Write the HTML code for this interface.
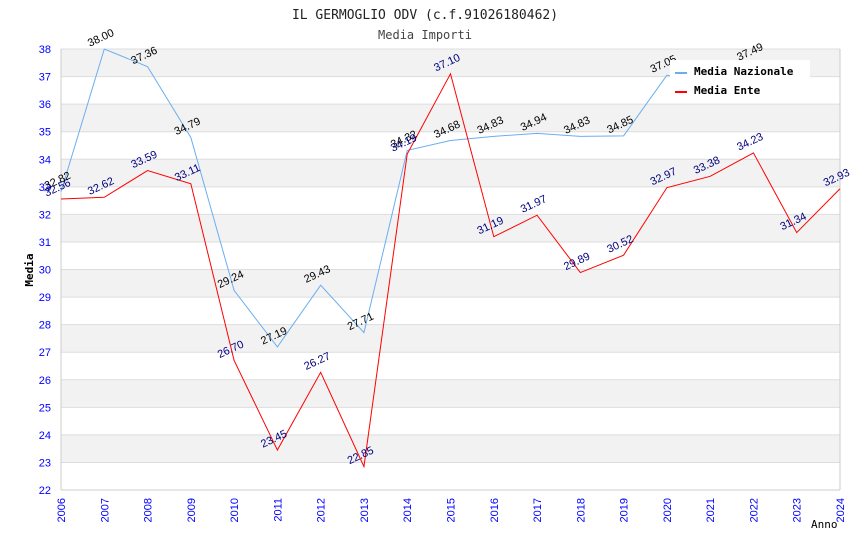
<!DOCTYPE html>
<html><head><meta charset="utf-8"><style>
body{margin:0;background:#fff;width:850px;height:550px;overflow:hidden}
svg text{font-family:"DejaVu Sans Mono","Liberation Mono",monospace}
svg text.s{font-family:"Liberation Sans",sans-serif}
</style></head><body>
<svg id="chart" width="850" height="550" xmlns="http://www.w3.org/2000/svg">
<text x="425" y="19" text-anchor="middle" font-size="13" fill="#222">IL GERMOGLIO ODV (c.f.91026180462)</text>
<text x="425" y="39" text-anchor="middle" font-size="12" fill="#444">Media Importi</text>
<g id="bands"></g><g id="grid"></g><g id="axes"></g><g id="series"></g><g id="labels"></g>
<g>
<rect x="670" y="60" width="140" height="42" fill="#fff"/>
<line x1="675" y1="73" x2="687" y2="73" stroke="#6aaef0" stroke-width="2"/>
<text x="694" y="75" font-size="11" font-weight="bold" fill="#000">Media Nazionale</text>
<line x1="675" y1="92" x2="687" y2="92" stroke="#f00" stroke-width="2"/>
<text x="694" y="94" font-size="11" font-weight="bold" fill="#000">Media Ente</text>
</g>
<text x="33" y="270" font-size="11" font-weight="bold" transform="rotate(-90 33 270)" text-anchor="middle">Media</text>
<text x="811" y="528" font-size="11">Anno</text>
</svg>
<script>
const years=[2006,2007,2008,2009,2010,2011,2012,2013,2014,2015,2016,2017,2018,2019,2020,2021,2022,2023,2024];
const nazionale=[32.82,38.00,37.36,34.79,29.24,27.19,29.43,27.71,34.32,34.68,34.83,34.94,34.83,34.85,37.05,36.70,37.49,null,null];
const ente=[32.56,32.62,33.59,33.11,26.70,23.45,26.27,22.85,34.19,37.10,31.19,31.97,29.89,30.52,32.97,33.38,34.23,31.34,32.93];
const yTicks=[22,23,24,25,26,27,28,29,30,31,32,33,34,35,36,37,38];
const NS="http://www.w3.org/2000/svg";
const X0=61,X1=840,Y0=490,Y1=49,ymin=22,ymax=38;
const xs=i=>X0+(X1-X0)*i/(years.length-1);
const ys=v=>Y0-(v-ymin)/(ymax-ymin)*(Y0-Y1);
function mk(p,t,a){const e=document.createElementNS(NS,t);for(const k in a)e.setAttribute(k,a[k]);p.appendChild(e);return e;}
const bands=document.getElementById('bands'),grid=document.getElementById('grid'),axes=document.getElementById('axes'),ser=document.getElementById('series'),lab=document.getElementById('labels');
yTicks.forEach((t,i)=>{
 if(i<yTicks.length-1 && (t%2===1)){const r=mk(bands,'rect',{x:X0,y:ys(t+1),width:X1-X0,height:ys(t)-ys(t+1),fill:'#f2f2f2'});
 
 }
 const l=mk(grid,'line',{x1:X0,x2:X1,y1:ys(t),y2:ys(t),stroke:'#ddd','stroke-width':1});
 
 
 const tx=mk(axes,'text',{x:X0-10,y:ys(t)+4,'text-anchor':'end','font-size':11,fill:'#00f',class:'s'});
 tx.textContent=t;
 
 
});
mk(axes,'line',{x1:X0,x2:X0,y1:Y1,y2:Y0,stroke:'#ccc'});
mk(axes,'line',{x1:X1,x2:X1,y1:Y1,y2:Y0,stroke:'#ccc'});
mk(axes,'line',{x1:X0,x2:X1,y1:Y0,y2:Y0,stroke:'#ccc'});
years.forEach((y,i)=>{
 const x=xs(i);
 const tx=mk(axes,'text',{x:x+4,y:Y0+8,'text-anchor':'end','font-size':11,fill:'#00f',class:'s',transform:`rotate(-90 ${x+4} ${Y0+8})`});
 tx.textContent=y;
 
 
});
function draw(arr,color,lc,name){
 let d='';arr.forEach((v,i)=>{if(v==null)return;d+=(d?'L':'M')+xs(i)+' '+ys(v);});
 const p=mk(ser,'path',{d:d,fill:'none',stroke:color,'stroke-width':1});
 
 
 arr.forEach((v,i)=>{if(v==null)return;const x=xs(i)-2,y=ys(v)-8;
  const t=mk(lab,'text',{x:x,y:y,'text-anchor':'middle','font-size':11,fill:lc,class:'s',transform:`rotate(-25 ${x} ${y})`});
  t.textContent=v.toFixed(2);
  
  });
}
draw(nazionale,'#6aaef0','#000','nazionale');
draw(ente,'#f00','#000080','ente');
</script>
</body></html>
